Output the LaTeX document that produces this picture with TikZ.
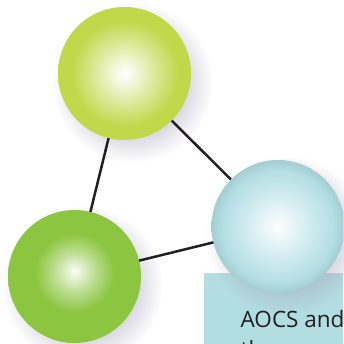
\documentclass[tikz,border=0pt]{standalone}
\usepackage{fontspec}
\setmainfont{Open Sans}
\usetikzlibrary{calc,fadings,backgrounds}

\definecolor{inkline}{HTML}{231F20}
\definecolor{limeball}{HTML}{C2D84B}
\definecolor{greenball}{HTML}{8CC53F}
\definecolor{aquaball}{HTML}{B3DFE4}
\definecolor{boxfill}{HTML}{B2DEE2}
\definecolor{shadowtint}{HTML}{A9A4BC}

% radial shadings: white highlight in the middle, full colour at the rim (25bp)
\pgfdeclareradialshading{limeshade}{\pgfpoint{0bp}{0bp}}{%
  color(0bp)=(white); color(2bp)=(white!92!limeball);
  color(11bp)=(white!45!limeball); color(20bp)=(limeball);
  color(50bp)=(limeball)}
\pgfdeclareradialshading{greenshade}{\pgfpoint{0bp}{2bp}}{%
  color(0bp)=(white); color(1.5bp)=(white!85!greenball);
  color(8bp)=(white!40!greenball); color(15bp)=(greenball);
  color(50bp)=(greenball)}
\pgfdeclareradialshading{aquashade}{\pgfpoint{0bp}{0bp}}{%
  color(0bp)=(white); color(2.5bp)=(white!85!aquaball);
  color(12bp)=(white!40!aquaball); color(21bp)=(aquaball);
  color(25bp)=(aquaball!92!black); color(50bp)=(aquaball!92!black)}

% soft round fading for the drop shadows
\pgfdeclareradialshading{shadowfadeshade}{\pgfpoint{0bp}{0bp}}{%
  color(0bp)=(white); color(12bp)=(white!90!black);
  color(25bp)=(black); color(50bp)=(black)}
\pgfdeclarefading{softshadow}{\pgfuseshading{shadowfadeshade}}

\tikzset{
  ball/.style={circle, minimum size=133pt, inner sep=0pt},
  link/.style={draw=inkline, line width=2.5pt},
  dropshadow/.style={fill=shadowtint, fill opacity=0.75, path fading=softshadow},
  label/.style={font=\fontsize{22.5}{29}\selectfont, text=inkline,
    inner sep=0pt, anchor=base west}
}

\begin{document}
\begin{tikzpicture}[x=1pt, y=-1pt]
  \useasboundingbox (0,0) rectangle (343,344);
  \clip (0,0) rectangle (343,344);

  % the three spheres
  \node[ball, shading=limeshade] (top) at (124.5,73.5) {};
  \node[ball, shading=greenshade] (left) at (74.5,276.5) {};
  \node[ball, shading=aquashade] (right) at (278,226.5) {};

  % caption text
  \node[label] (caption) at (240.5,327) {AOCS and};
  \node[label] (caption2) at (240.5,357) {th};

  \begin{pgfonlayer}{background}
    \fill[white] (0,0) rectangle (343,344);
    % caption panel
    \fill[boxfill] (204,273) rectangle (343,344);
    % drop shadows
    \fill[dropshadow] ($(top)+(8,9)$) circle (80);
    \fill[dropshadow] ($(left)+(8,9)$) circle (80);
    \fill[dropshadow] ($(right)+(8,9)$) circle (80);
    % connectors between the spheres
    \draw[link] (top.center) -- (left.center);
    \draw[link] (top.center) -- (right.center);
    \draw[link] (left.center) -- (right.center);
  \end{pgfonlayer}
\end{tikzpicture}
\end{document}
